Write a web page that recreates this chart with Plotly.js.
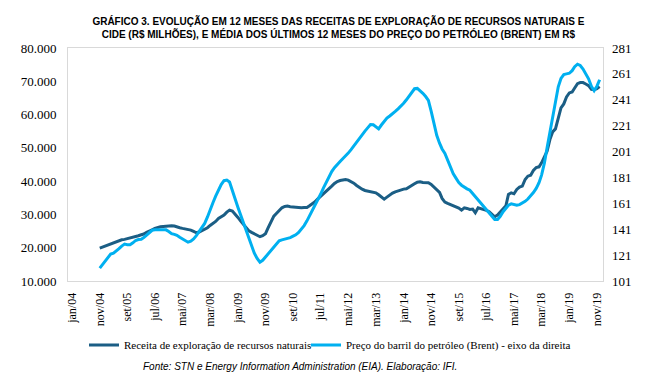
<!DOCTYPE html>
<html>
<head>
<meta charset="utf-8">
<script src="https://cdn.plot.ly/plotly-3.0.1.min.js"></script>
<style>html,body{margin:0;padding:0;background:#fff}#chart{width:657px;height:380px}</style>
</head>
<body>
<div id="chart"></div>
<script>
// Series start: nov/2004, monthly
const startYear = 2004;
const startMonth = 11;

// Receita de exploração de recursos naturais (R$ milhões) - left axis
const receita = [
19900,20200,20500,20800,21200,21500,21800,22200,22400,22500,22700,22900,23000,23300,23600,23900,24100,24600,25100,25400,
25800,26100,26300,26400,26500,26600,26600,26500,26200,26000,25800,25700,25500,25300,24900,24500,24700,25100,25500,26000,
26700,27300,27900,28800,29400,29800,30700,31300,31000,30200,29100,28000,27000,26000,25100,24600,24200,23900,23300,23600,
24200,26000,28000,29500,30300,31200,32000,32400,32500,32300,32200,32100,32100,32000,32100,32100,32600,33200,33800,34700,
35400,36100,37000,37700,38500,39300,39900,40200,40400,40500,40300,39900,39400,38700,38100,37600,37200,37000,36900,36800,
36500,35900,35200,34600,35200,35900,36400,36800,37100,37400,37600,37700,38100,38700,39200,39700,39800,39600,39600,39500,
39000,38200,37300,36600,34800,33700,33300,33000,32700,32300,31900,31300,32000,31800,31500,31600,30500,32000,31800,31400,
31200,30800,30000,29300,29800,30800,31800,32600,36000,36500,36200,37500,38200,38500,40500,41500,41800,43200,44100,44300,
45500,47200,49000,52500,54800,55700,59000,62000,63200,65300,66500,66800,68000,69300,69600,69600,69200,68700,67600,67500,
67800,68400
];

// Preço do barril do petróleo (Brent), média 12 meses em R$ - right axis
const brent = [
111,113.5,116,119,121.8,122.5,124,126,128,129.5,129,129,130.5,132.3,133,133.3,134.5,136.5,138.5,140.2,
140.6,140.5,140.3,140.6,140.5,139.2,137.6,137,136.3,134.8,133.4,132,131,131.8,133.5,136,139,142.2,145.5,150.5,
156.5,161.5,166.5,171.5,175.5,178.5,179,177.5,171.5,164.5,158,152,146,140,134,128,122.5,118.5,115.5,117,
119.5,122,124.5,127.5,130,132,132.8,133.2,133.6,134.5,135.6,136.7,138.5,140.8,143.8,147.5,151.2,155,159.5,163.8,
168,172.8,177.5,182,185.5,188.5,191.2,193.3,195.5,197.5,199.8,202.5,205.5,208.5,211.3,214.2,216.8,219.3,221.8,221.7,
220,218.5,221.5,224.5,226.8,228.5,230,232,234,235.8,238.3,241,244,247,249.5,249.8,248,246,243.5,240.5,
232,222,213.5,207.5,203,199.5,194.5,189,184,180.5,177,175,173.3,172.2,171.1,168.5,166,163.3,160.8,158.5,
156,153.5,150.8,148.5,148.5,151,154.5,157.5,159.5,160.6,160.3,159.5,160,161.2,162.5,164.3,166.5,169.3,172.5,177,
182.8,192,204,216,230,240.5,251,257.5,260.5,261,261.5,263.5,266.5,268.5,267.5,264.8,261,257.2,251.5,248,
251.5,256.5
];

const tickDates = ['2004-01-01','2004-11-01','2005-09-01','2006-07-01','2007-05-01','2008-03-01','2009-01-01','2009-11-01','2010-09-01','2011-07-01',
                   '2012-05-01','2013-03-01','2014-01-01','2014-11-01','2015-09-01','2016-07-01','2017-05-01','2018-03-01','2019-01-01','2019-11-01'];
const tickText = ['jan/04','nov/04','set/05','jul/06','mai/07','mar/08','jan/09','nov/09','set/10','jul/11',
                  'mai/12','mar/13','jan/14','nov/14','set/15','jul/16','mai/17','mar/18','jan/19','nov/19'];

const seriesNames = ['Receita de exploração de recursos naturais', 'Preço do barril do petróleo (Brent) - eixo da direita'];

function monthDates(n) {
  const out = [];
  for (let i = 0; i < n; i++) {
    const t = (startMonth - 1) + i;
    const y = startYear + Math.floor(t / 12);
    const m = (t % 12) + 1;
    out.push(y + '-' + String(m).padStart(2, '0') + '-01');
  }
  return out;
}

const serif = 'Liberation Serif, serif';
const traces = [
  {x: monthDates(receita.length), y: receita, name: seriesNames[0], type: 'scatter', mode: 'lines',
   line: {color: '#1b5e85', width: 3}, yaxis: 'y', legend: 'legend'},
  {x: monthDates(brent.length), y: brent, name: seriesNames[1], type: 'scatter', mode: 'lines',
   line: {color: '#00b0f0', width: 3}, yaxis: 'y2', legend: 'legend2'}
];

const legendBase = {
  orientation: 'h', xref: 'container', yref: 'container',
  xanchor: 'left', y: 1 - 345 / 380, yanchor: 'middle',
  font: {family: serif, size: 11, color: '#000'},
  bgcolor: 'rgba(0,0,0,0)', itemwidth: 30
};

const layout = {
  width: 657, height: 380,
  margin: {l: 68, r: 54, t: 48, b: 99},
  paper_bgcolor: '#fff', plot_bgcolor: '#fff',
  separators: ',.',
  showlegend: true,
  title: {
    text: '<b>GRÁFICO 3. EVOLUÇÃO EM 12 MESES DAS RECEITAS DE EXPLORAÇÃO DE RECURSOS NATURAIS E<br>CIDE (R$ MILHÕES), E MÉDIA DOS ÚLTIMOS 12 MESES DO PREÇO DO PETRÓLEO (BRENT) EM R$</b>',
    font: {family: 'Liberation Sans, Arial, sans-serif', size: 10, color: '#000'},
    x: 0.515, xanchor: 'center', xref: 'container', y: 0.934, yanchor: 'middle', yref: 'container'
  },
  xaxis: {
    type: 'date', range: ['2003-11-17', '2020-01-07'],
    tickmode: 'array', tickvals: tickDates, ticktext: tickText, tickangle: -90,
    tickfont: {family: serif, size: 12, color: '#000'},
    showgrid: false, zeroline: false, showline: true, linecolor: '#d9d9d9', linewidth: 1, mirror: true,
    ticks: '', ticklabelstandoff: 6
  },
  yaxis: {
    range: [10000, 80000], tickmode: 'linear', tick0: 10000, dtick: 10000, tickformat: ',d',
    tickfont: {family: serif, size: 13, color: '#000'},
    showgrid: false, zeroline: false, showline: true, linecolor: '#d9d9d9', linewidth: 1, mirror: true,
    ticks: '', ticklabelstandoff: 8
  },
  yaxis2: {
    overlaying: 'y', side: 'right',
    range: [101, 281], tickmode: 'linear', tick0: 101, dtick: 20,
    tickfont: {family: serif, size: 13, color: '#000'},
    showgrid: false, zeroline: false, showline: false,
    ticks: '', ticklabelstandoff: 8
  },
  legend: Object.assign({}, legendBase, {x: 84 / 657}),
  legend2: Object.assign({}, legendBase, {x: 306 / 657}),
  annotations: [{
    text: '<i>Fonte: STN e Energy Information Administration (EIA). Elaboração: IFI.</i>',
    xref: 'paper', yref: 'paper', x: 0.434, y: -0.365, xanchor: 'center', yanchor: 'middle',
    showarrow: false, font: {family: 'Liberation Sans, Arial, sans-serif', size: 10, color: '#000'}
  }]
};

Plotly.newPlot('chart', traces, layout, {displayModeBar: false, staticPlot: true});
</script>
</body>
</html>
